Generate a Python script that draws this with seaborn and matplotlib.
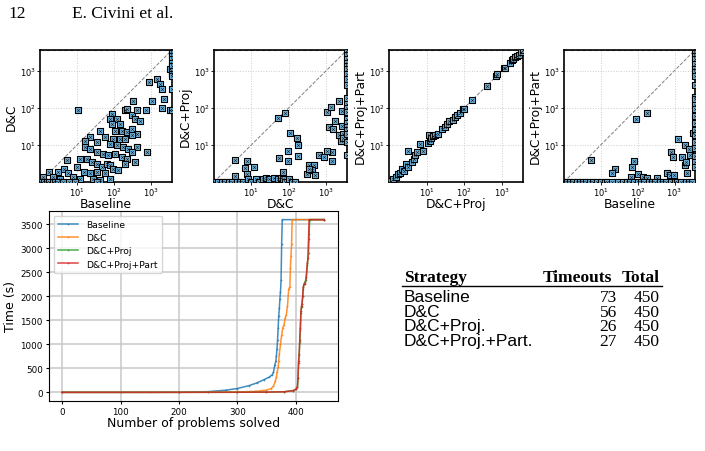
import matplotlib
matplotlib.use("Agg")
import matplotlib.pyplot as plt
import seaborn as sns
import pandas as pd

# ---- data ----
strategies = ["Baseline", "D&C", "D&C+Proj", "D&C+Proj+Part"]
line_colors = ["#1f77b4", "#ff7f0e", "#2ca02c", "#d62728"]

# cactus curves: (rank, seconds)
baseline_curve = [(0, 0.1), (100, 0.5), (200, 2), (250, 15), (280, 45), (300, 80),
                  (320, 140), (333, 195), (345, 260), (355, 320), (360, 370),
                  (362, 420), (364, 560), (366, 650), (367, 760), (368, 900),
                  (369, 1100), (370, 1350), (371, 1600), (372, 1750), (373, 1950),
                  (374, 2100), (375, 2350), (376, 3100), (377, 3600), (449, 3600)]
dc_curve = [(0, 0.1), (150, 0.5), (250, 3), (300, 8), (330, 20), (350, 45),
            (358, 80), (362, 130), (365, 230), (367, 320), (368, 420), (370, 520),
            (371, 650), (372, 800), (374, 1000), (376, 1200), (378, 1350),
            (380, 1400), (382, 1550), (384, 1620), (386, 1800), (388, 2150),
            (390, 2200), (391, 2600), (392, 2850), (393, 3100), (394, 3600), (449, 3600)]
proj_curve = [(0, 0.1), (200, 0.5), (300, 2), (350, 5), (380, 12), (395, 35),
              (400, 60), (403, 110), (404, 300), (405, 620), (406, 780), (407, 1050),
              (408, 1300), (409, 1650), (410, 1780), (411, 1850), (412, 2000),
              (413, 2150), (414, 2250), (416, 2300), (418, 2350), (420, 2650),
              (422, 2900), (423, 3300), (424, 3600), (449, 3600)]
part_curve = [(0, 0.1), (200, 0.5), (300, 2), (350, 5), (380, 12), (395, 35),
              (400, 60), (403, 110), (404, 300), (405, 650), (406, 800), (407, 1100),
              (408, 1350), (409, 1700), (410, 1800), (411, 1850), (412, 2000),
              (413, 2200), (414, 2250), (416, 2250), (418, 2400), (420, 2700),
              (421, 2800), (422, 3200), (423, 3600), (449, 3600)]

# scatter panels: (x seconds, y seconds)
base_vs_dc = [(10.8, 88), (870, 490), (1400, 600), (1730, 440), (1900, 320), (3200, 1100),
              (1050, 155), (2250, 170), (1900, 100), (3200, 85), (710, 88), (330, 155),
              (200, 85), (300, 62), (370, 50), (500, 45), (400, 85), (220, 94), (85, 70),
              (77, 50), (117, 50), (145, 37), (85, 37), (41, 24), (105, 24), (160, 24),
              (220, 22), (300, 27), (400, 20), (22, 16), (16, 13), (34, 12), (57, 16),
              (95, 14.6), (145, 14.6), (200, 14.6), (300, 18), (77, 10.7), (117, 9.7),
              (175, 8.7), (240, 7.9), (400, 8.7), (750, 6.4), (300, 6.4), (16, 8.7),
              (22, 7.9), (34, 6.4), (51, 5.8), (70, 5.2), (105, 5.8), (160, 4.7),
              (220, 4.2), (370, 3.4), (5.2, 3.8), (9.8, 2.5), (12, 4.2), (18, 4.2),
              (25, 3.4), (34, 3.1), (46, 2.5), (63, 3.1), (77, 2.8), (95, 2.3), (130, 2.1),
              (200, 3.1), (15, 1.9), (22, 1.7), (34, 1.9), (57, 1.7), (4.3, 2.3), (3.1, 1.9),
              (5.8, 1.7), (1.7, 1.9), (1.2, 1.4), (2.3, 1.4), (3.5, 1.2), (7.9, 1.4),
              (12, 1.2), (27, 1.2), (41, 1.1), (77, 1.2), (1, 1), (1.1, 1), (1.3, 1),
              (1.5, 1), (1.8, 1), (2.2, 1), (2.6, 1), (3, 1), (4.2, 1), (6, 1), (9, 1),
              (35, 1), (3600, 3600), (3600, 3000), (3600, 2500), (3600, 2000),
              (3600, 1600), (3600, 1300), (3600, 1000), (3600, 800), (3600, 700),
              (3600, 320), (3600, 85)]
dc_vs_proj = [(3.6, 3.8), (7.4, 3.6), (6.6, 2.4), (12, 2.5), (7.4, 1.6), (3.6, 1.45),
              (52, 53), (80, 73), (108, 21), (165, 15), (180, 9.7), (98, 6.7), (98, 3.6),
              (175, 5), (56, 4.5), (72, 1.9), (300, 1.6), (340, 2.8), (460, 2.8),
              (410, 2.1), (490, 1.5), (350, 2.2), (630, 5.2), (850, 4.7), (1040, 76),
              (1350, 104), (1170, 30), (1520, 27), (1750, 45), (2150, 155), (2150, 18),
              (1430, 6.4), (1040, 6.7), (1430, 3.6), (2700, 80), (2500, 13), (2900, 20),
              (2700, 33), (2900, 15), (1, 1), (1.3, 1), (1.6, 1), (2, 1), (2.5, 1), (3, 1),
              (4, 1), (5, 1), (6, 1), (8, 1.2), (10, 1), (13, 1.2), (16, 1), (20, 1.2),
              (25, 1.3), (30, 1.2), (40, 1.3), (50, 1.2), (60, 1.3), (70, 1.2), (80, 1),
              (100, 1.2), (120, 1), (150, 1), (3600, 3600), (3600, 3200), (3600, 2600),
              (3600, 2000), (3600, 1600), (3600, 1300), (3600, 1100), (3600, 800),
              (3600, 600), (3600, 400), (3600, 180), (3600, 130), (3600, 100),
              (3600, 75), (3600, 50), (3600, 40), (3600, 30), (3600, 25), (3600, 20),
              (3600, 12), (3600, 5.3)]
proj_vs_part = [(1.0, 1.0), (1.1, 1.05), (1.3, 1.2), (1.5, 1.4), (1.7, 1.6), (2, 1.8),
                (2.2, 2.3), (2.5, 2.0), (2.8, 3.0), (3.2, 2.6), (3.2, 6.7), (4, 3.5),
                (4.5, 4.2), (5, 5.2), (5.5, 6.5), (6.6, 10.7), (8, 7), (11.4, 18.7),
                (11, 11), (12, 12.5), (13, 15), (15, 17), (17, 18), (20, 20), (25, 27),
                (30, 30), (35, 37), (40, 45), (50, 47), (55, 55), (65, 65), (75, 72),
                (90, 90), (100, 95), (160, 165), (400, 380), (680, 700), (750, 800),
                (1100, 1150), (1200, 1200), (1600, 1600), (1800, 1900), (2000, 2000),
                (2200, 2300), (2500, 2500), (2800, 2700), (3100, 3100), (3600, 3600)]
base_vs_part = [(5.5, 4.0), (25, 2.3), (20, 1.7), (68, 2.5), (80, 3.6), (89, 50), (180, 73),
                (100, 1.6), (65, 1.4), (140, 1.4), (175, 1.3), (340, 1.3), (630, 1.7),
                (760, 1.5), (970, 1.5), (800, 6.4), (900, 4.7), (1270, 14), (1900, 10),
                (2400, 7.9), (1630, 4.7), (1900, 2.8), (2100, 3.4), (2200, 1.7), (2650, 5.2),
                (3200, 21), (1, 1), (1.2, 1), (1.5, 1), (1.8, 1), (2.2, 1), (2.7, 1),
                (3.3, 1), (4, 1), (5, 1), (6, 1), (8, 1), (10, 1), (13, 1), (15, 1), (20, 1),
                (30, 1), (40, 1), (50, 1), (60, 1), (80, 1), (100, 1), (120, 1), (150, 1),
                (200, 1), (250, 1), (300, 1), (400, 1), (500, 1), (600, 1), (800, 1),
                (1000, 1), (1200, 1), (1500, 1), (2000, 1), (2500, 1), (3000, 1),
                (3600, 3600), (3600, 3000), (3600, 2500), (3600, 2000), (3600, 1500),
                (3600, 1100), (3600, 900), (3600, 700), (3600, 400), (3600, 200),
                (3600, 170), (3600, 120), (3600, 90), (3600, 60), (3600, 40), (3600, 25),
                (3600, 18), (3600, 12), (3600, 8), (3600, 5), (3600, 3.5), (3600, 2.5)]

table_rows = ["Baseline", "D&C", "D&C+Proj.", "D&C+Proj.+Part."]
timeouts = [73, 56, 26, 27]
totals = [450, 450, 450, 450]

TIMEOUT = 3600
W, H = 705, 452


def px(x0, y0, w, h):
    # pixel box (top-left origin) -> figure fraction
    return [x0 / W, 1 - (y0 + h) / H, w / W, h / H]


fig = plt.figure(figsize=(W / 100, H / 100), dpi=100)

# page header
fig.text(8 / W, 1 - 18 / H, "12", family="Liberation Serif", fontsize=12.5)
fig.text(72 / W, 1 - 18 / H, "E. Civini et al.", family="Liberation Serif", fontsize=12.5)

# ---- pairwise scatter panels ----
panels = [
    (base_vs_dc, "Baseline", "D&C", (40, 51, 132, 132)),
    (dc_vs_proj, "D&C", "D&C+Proj", (214, 51, 133, 132)),
    (proj_vs_part, "D&C+Proj", "D&C+Proj+Part", (389, 51, 134, 132)),
    (base_vs_part, "Baseline", "D&C+Proj+Part", (564, 51, 131, 132)),
]
for pts, xl, yl, box in panels:
    ax = fig.add_axes(px(*box))
    df = pd.DataFrame(pts, columns=["x", "y"])
    ax.set_xscale("log")
    ax.set_yscale("log")
    ax.plot([1, TIMEOUT], [1, TIMEOUT], ls="--", color="gray", lw=0.7, zorder=1)
    ax.axhline(TIMEOUT, ls="--", color="gray", lw=0.8, zorder=1)
    ax.axvline(TIMEOUT, ls="--", color="gray", lw=0.8, zorder=1)
    sns.scatterplot(data=df, x="x", y="y", ax=ax, marker="s", s=16, color="#6cb4e0",
                    edgecolor="black", linewidth=0.8, zorder=3)
    sns.scatterplot(data=df, x="x", y="y", ax=ax, marker="x", s=4, color="#1a1a1a",
                    linewidth=0.4, zorder=4)
    ax.set_xlim(1, TIMEOUT)
    ax.set_ylim(1, TIMEOUT)
    ax.set_xticks([10, 100, 1000])
    ax.set_yticks([10, 100, 1000])
    ax.minorticks_off()
    ax.tick_params(labelsize=6, length=2, width=0.6, pad=0.8)
    ax.grid(True, ls=":", color="0.8", lw=0.7)
    ax.set_axisbelow(True)
    for s in ax.spines.values():
        s.set_linewidth(1.2)
    ax.set_xlabel(xl, fontsize=8.8)
    ax.xaxis.set_label_coords(0.5, -0.112)
    ax.set_ylabel(yl, fontsize=8.8, labelpad=2)

# ---- cactus plot ----
ax = fig.add_axes(px(49, 212, 289, 190))
curves = [baseline_curve, dc_curve, proj_curve, part_curve]
for name, pts, col in zip(strategies, curves, line_colors):
    d = pd.DataFrame(pts, columns=["rank", "time"])
    sns.lineplot(data=d, x="rank", y="time", ax=ax, color=col, lw=1.1, alpha=0.85,
                 marker=".", markersize=2.5, markeredgewidth=0, estimator=None,
                 sort=False, label=name)
ax.set_xticks([0, 100, 200, 300, 400])
ax.set_yticks(range(0, 3501, 500))
ax.set_xlim(-22.5, 472.5)
ax.set_ylim(-180, 3780)
ax.grid(True, color="0.78", lw=1.1)
ax.set_axisbelow(True)
ax.tick_params(labelsize=6.3, length=2.5, pad=2)
ax.set_xlabel("Number of problems solved", fontsize=9, labelpad=0)
ax.set_ylabel("Time (s)", fontsize=9, labelpad=2)
ax.legend(loc="upper left", fontsize=6.6, handlelength=2.2, borderpad=0.5,
          labelspacing=0.45)

# ---- summary table ----
fs = 12.5
fig.text(404 / W, 1 - 282 / H, "Strategy", family="Liberation Serif", weight="bold",
         fontsize=fs)
fig.text(612 / W, 1 - 282 / H, "Timeouts", family="Liberation Serif", weight="bold",
         fontsize=fs, ha="right")
fig.text(660 / W, 1 - 282 / H, "Total", family="Liberation Serif", weight="bold",
         fontsize=fs, ha="right")
fig.add_artist(plt.Line2D([402 / W, 662 / W], [1 - 287 / H, 1 - 287 / H], color="black",
                          lw=1.0))
for i, (name, t, tot) in enumerate(zip(table_rows, timeouts, totals)):
    yb = 1 - (302 + i * 14.7) / H
    fig.text(404 / W, yb, name, family="Liberation Sans", fontsize=fs)
    fig.text(617 / W, yb, str(t), family="Liberation Serif", fontsize=fs, ha="right")
    fig.text(660 / W, yb, str(tot), family="Liberation Serif", fontsize=fs, ha="right")

fig.savefig("out.png", dpi=100)
